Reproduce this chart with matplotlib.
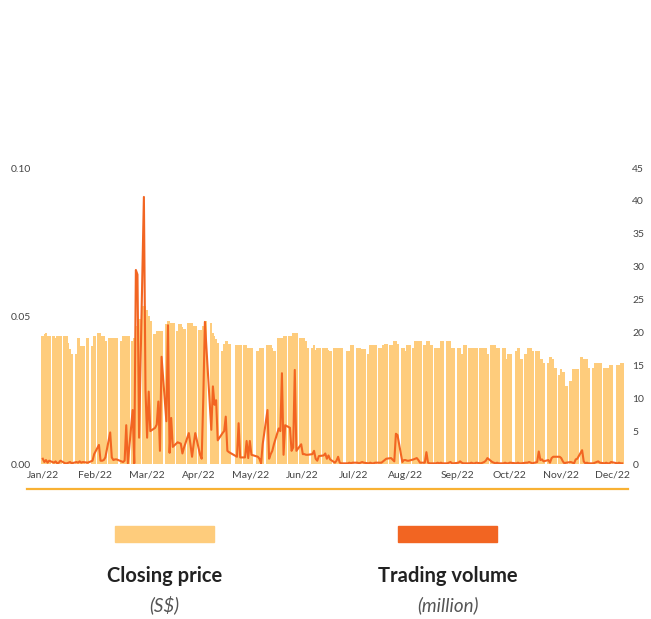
import numpy as np
import pandas as pd
import matplotlib
matplotlib.use("Agg")
import matplotlib.pyplot as plt
import matplotlib.dates as mdates
from matplotlib.lines import Line2D

# SGX trading days 2022
holidays = ["2022-02-01", "2022-02-02", "2022-04-15", "2022-05-02", "2022-05-03",
            "2022-05-16", "2022-07-11", "2022-08-09", "2022-10-24", "2022-12-26"]
days = pd.bdate_range("2022-01-03", "2022-12-30")
days = days[~days.isin(pd.to_datetime(holidays))]

months = ["Jan/22", "Feb/22", "Mar/22", "Apr/22", "May/22", "Jun/22",
          "Jul/22", "Aug/22", "Sep/22", "Oct/22", "Nov/22", "Dec/22"]

# closing price (S$), one row per week
price = [
    0.0433, 0.0439, 0.0444, 0.0433, 0.0433,
    0.0433, 0.0427, 0.0433, 0.0433, 0.0433,
    0.0433, 0.0433, 0.0410, 0.0388, 0.0371,
    0.0371, 0.0427, 0.0427, 0.0400, 0.0400,
    0.0427, 0.0400, 0.0433,
    0.0444, 0.0444, 0.0433, 0.0433, 0.0416,
    0.0427, 0.0427, 0.0427, 0.0427, 0.0427,
    0.0416, 0.0433, 0.0433, 0.0433, 0.0433,
    0.0416, 0.0427, 0.0465, 0.0490, 0.0490,
    0.0535, 0.0535, 0.0520, 0.0500, 0.0484,
    0.0439, 0.0450, 0.0450, 0.0450, 0.0450,
    0.0473, 0.0484, 0.0484, 0.0476, 0.0476,
    0.0450, 0.0473, 0.0473, 0.0462, 0.0456,
    0.0476, 0.0476, 0.0476, 0.0465, 0.0465,
    0.0453, 0.0453, 0.0465, 0.0484,
    0.0476, 0.0444, 0.0433, 0.0422, 0.0410,
    0.0382, 0.0405, 0.0416, 0.0416, 0.0405,
    0.0402, 0.0402, 0.0402,
    0.0402, 0.0402, 0.0393, 0.0393, 0.0393,
    0.0382, 0.0393, 0.0393, 0.0393,
    0.0402, 0.0402, 0.0402, 0.0393, 0.0382,
    0.0427, 0.0427, 0.0427, 0.0433, 0.0433,
    0.0433, 0.0433, 0.0444, 0.0444, 0.0444,
    0.0427, 0.0427, 0.0427, 0.0416, 0.0393,
    0.0393, 0.0402, 0.0385, 0.0393, 0.0393,
    0.0393, 0.0393, 0.0393, 0.0385, 0.0382,
    0.0393, 0.0393, 0.0393, 0.0393, 0.0393,
    0.0382, 0.0382, 0.0402, 0.0402,
    0.0393, 0.0393, 0.0393, 0.0387, 0.0387,
    0.0373, 0.0402, 0.0402, 0.0402, 0.0402,
    0.0393, 0.0393, 0.0402, 0.0405, 0.0405,
    0.0402, 0.0414, 0.0414, 0.0405,
    0.0393, 0.0393, 0.0382, 0.0402, 0.0402,
    0.0393, 0.0414, 0.0414, 0.0414, 0.0414,
    0.0402, 0.0414, 0.0414, 0.0414, 0.0402,
    0.0393, 0.0393, 0.0393, 0.0414, 0.0414,
    0.0414, 0.0414, 0.0414, 0.0393, 0.0393,
    0.0393, 0.0393, 0.0373, 0.0402, 0.0402,
    0.0393, 0.0393, 0.0393, 0.0393, 0.0393,
    0.0393, 0.0393, 0.0393, 0.0393, 0.0373,
    0.0402, 0.0402, 0.0402, 0.0393, 0.0393,
    0.0393, 0.0393, 0.0354, 0.0373, 0.0373,
    0.0382, 0.0393, 0.0393, 0.0354,
    0.0373, 0.0393, 0.0393, 0.0393, 0.0382,
    0.0382, 0.0382, 0.0354, 0.0354, 0.0342,
    0.0342, 0.0362, 0.0362, 0.0354, 0.0325,
    0.0302, 0.0320, 0.0310, 0.0310, 0.0263,
    0.0280, 0.0320, 0.0320, 0.0320, 0.0320,
    0.0362, 0.0354, 0.0354, 0.0354, 0.0325,
    0.0325, 0.0342, 0.0342, 0.0342, 0.0342,
    0.0325, 0.0325, 0.0325, 0.0333, 0.0333,
    0.0333, 0.0333, 0.0342, 0.0342,
]

# trading volume (million), one row per week
volume = [
    0.8, 0.3, 0.6, 0.2, 0.5,
    0.2, 0.4, 0.1, 0.2, 0.5,
    0.1, 0.1, 0.2, 0.3, 0.1,
    0.3, 0.2, 0.4, 0.2, 0.3,
    0.2, 0.5, 1.5,
    2.9, 0.5, 0.5, 0.6, 1.0,
    4.8, 1.0, 0.6, 0.7, 0.7,
    0.4, 0.3, 0.5, 5.9, 0.1,
    8.2, 0.1, 29.5, 28.8, 4.0,
    40.6, 11.2, 4.0, 11.0, 5.0,
    5.5, 6.0, 9.5, 2.0, 16.3,
    6.5, 21.1, 1.7, 7.0, 2.6,
    3.3, 3.2, 3.1, 1.6, 2.5,
    4.7, 3.0, 1.1, 3.0, 4.7,
    1.4, 0.8, 10.0, 21.6,
    5.2, 11.8, 9.0, 9.7, 3.6,
    4.7, 5.0, 7.2, 2.0, 1.8,
    1.1, 6.2, 1.0,
    1.0, 3.5, 0.9, 3.5, 1.4,
    1.1, 0.8, 0.1, 3.0,
    8.2, 0.8, 1.5, 2.0, 3.0,
    5.4, 5.0, 13.8, 1.4, 5.9,
    5.5, 2.0, 2.5, 14.3, 2.0,
    3.0, 1.5, 1.5, 1.4, 1.4,
    1.5, 2.0, 0.8, 0.5, 1.2,
    1.3, 1.6, 0.8, 1.3, 0.7,
    0.2, 0.5, 1.1, 0.2, 0.1,
    0.1, 0.2, 0.1, 0.2,
    0.2, 0.1, 0.2, 0.3, 0.2,
    0.1, 0.2, 0.1, 0.1, 0.2,
    0.2, 0.2, 0.4, 0.6, 0.8,
    0.9, 0.4, 4.6, 4.4,
    0.3, 0.6, 0.6, 0.5, 0.5,
    0.7, 0.8, 0.9, 0.6, 0.2,
    0.2, 1.8, 0.2, 0.1, 0.1,
    0.1, 0.2, 0.1, 0.2, 0.1,
    0.1, 0.2, 0.3, 0.1, 0.1,
    0.2, 0.4, 0.2, 0.1, 0.1,
    0.1, 0.2, 0.1, 0.1, 0.2,
    0.1, 0.2, 0.3, 0.5, 0.9,
    0.3, 0.2, 0.1, 0.2, 0.1,
    0.1, 0.2, 0.1, 0.1, 0.2,
    0.1, 0.2, 0.1, 0.1,
    0.2, 0.2, 0.3, 0.2, 0.1,
    0.3, 1.9, 0.6, 0.7, 0.4,
    0.6, 0.2, 0.9, 1.1, 1.1,
    1.1, 0.9, 0.4, 0.1, 0.2,
    0.3, 0.2, 0.1, 0.7, 0.8,
    2.1, 0.4, 0.1, 0.2, 0.1,
    0.1, 0.2, 0.3, 0.4, 0.2,
    0.1, 0.2, 0.1, 0.1, 0.3,
    0.1, 0.2, 0.1, 0.1,
]

assert len(price) == len(days) == len(volume)

PRICE_C = "#FECC7C"
VOL_C = "#F26522"
TXT = "#444444"
plt.rcParams["font.family"] = ["Lato", "DejaVu Sans"]

fig = plt.figure(figsize=(6.51, 6.19), dpi=100)
ax = fig.add_axes([41 / 651, 1 - 464 / 619, 583 / 651, 296 / 619])
ax2 = ax.twinx()

x = mdates.date2num(days)
p = np.array(price)
half = 1.1

# price drawn as stepped blocks, broken at weekends / holidays
breaks = np.where(np.diff(x) > 1)[0] + 1
for seg in np.split(np.arange(len(x)), breaks):
    xs = x[seg]
    edges = np.concatenate([[xs[0] - half], (xs[:-1] + xs[1:]) / 2, [xs[-1] + half]])
    ax.stairs(p[seg], edges, fill=True, color=PRICE_C, linewidth=0, baseline=0)

ax2.plot(x, volume, color=VOL_C, lw=1.5, solid_joinstyle="round")

x0, x1 = x[0] - half, x[-1] + half
ax.set_xlim(x0, x1)
ax.set_ylim(0, 0.10)
ax2.set_ylim(0, 45)
ax.set_yticks([0, 0.05, 0.10])
ax.set_yticklabels(["0.00", "0.05", "0.10"])
ax2.set_yticks(np.arange(0, 46, 5))

# month labels are spread evenly across the axis
ax.set_xticks(np.linspace(x0 + 0.0034 * (x1 - x0), x0 + 0.981 * (x1 - x0), 12))
ax.set_xticklabels(months)

for a in (ax, ax2):
    for s in a.spines.values():
        s.set_visible(False)
    a.tick_params(length=0, labelsize=7.5, labelcolor=TXT)
ax.tick_params(axis="y", pad=7)
ax2.tick_params(axis="y", pad=6)
ax.tick_params(axis="x", pad=5)

fig.add_artist(Line2D([27 / 651, 628 / 651], [1 - 489 / 619] * 2,
                      color="#F8B133", lw=1.6, transform=fig.transFigure))

# legend
for cx, col, title, unit in [(164.5, PRICE_C, "Closing price", "(S$)"),
                             (448, VOL_C, "Trading volume", "(million)")]:
    fig.patches.append(plt.Rectangle(((cx - 50) / 651, 1 - 542 / 619), 99 / 651, 16 / 619,
                                     color=col, transform=fig.transFigure))
    fig.text(cx / 651, 1 - 576 / 619, title, ha="center", va="center",
             fontsize=14.5, fontweight="bold", color="#222222")
    fig.text(cx / 651, 1 - 605 / 619, unit, ha="center", va="center",
             fontsize=13.5, fontstyle="italic", fontweight="normal", color="#555555")

fig.savefig("out.png", dpi=100, facecolor="white")
